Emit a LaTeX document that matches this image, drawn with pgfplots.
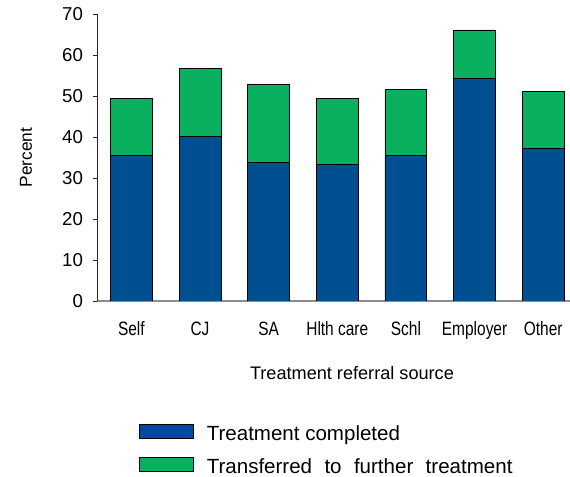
\documentclass[border=0pt]{standalone}
\usepackage{pgfplots}
\pgfplotsset{compat=1.18}
\usepackage{fontspec}
\setmainfont{Liberation Sans}
\newfontfamily\narrowfont[FakeStretch=0.80]{Liberation Sans}
\definecolor{barblue}{RGB}{0,79,145}
\definecolor{legblue}{RGB}{0,72,168}
\definecolor{bargreen}{RGB}{8,176,96}
\begin{document}
\begin{tikzpicture}
\useasboundingbox (0,0) rectangle (427.5pt,357.75pt);
\begin{axis}[
  at={(72.75pt,132pt)}, anchor=south west,
  scale only axis, width=354.75pt, height=215.25pt,
  ybar stacked, bar width=0.61,
  xmin=-0.5, xmax=6.39, ymin=0, ymax=70,
  axis x line=bottom, axis y line=left,
  x axis line style={draw=gray!90, -, line width=0.8pt},
  y axis line style={draw=black!85, -, line width=0.6pt},
  /pgf/number format/assume math mode=true,
  ytick={0,10,...,70},
  tick align=outside, major tick length=3pt,
  y tick style={draw=black!85, line width=0.6pt},
  xtick={0,...,6},
  xticklabels={Self,CJ,SA,Hlth care,Schl,Employer,Other},
  x tick style={draw=none},
  xticklabel style={font=\narrowfont\fontsize{14.5pt}{17pt}\selectfont, anchor=base, yshift=-23.25pt},
  yticklabel style={font=\fontsize{14pt}{16pt}\selectfont, xshift=-4pt},
  ylabel={Percent},
  ylabel style={at={(axis description cs:-0.150,0.5)}, anchor=center, font=\fontsize{13pt}{15pt}\selectfont},
  xlabel={Treatment referral source},
  xlabel style={at={(axis description cs:0.539,-0.251)}, anchor=center, font=\fontsize{13.6pt}{16pt}\selectfont},
  legend style={at={(axis description cs:0.0888,-0.428)}, anchor=north west,
    draw=none, fill=none, inner sep=0pt, outer sep=0pt,
    row sep=8.75pt, column sep=9.75pt,
    nodes={inner sep=0pt, anchor=base west, text height=12pt, text depth=4pt},
    font=\fontsize{15.4pt}{18pt}\selectfont},
  mylegend/.style={legend image code/.code={\draw[##1, line width=0.6pt, fill=#1] (0pt,1.5pt) rectangle (40.5pt,12pt);}},
]
\addplot[fill=barblue, draw=black, line width=0.6pt, mylegend=legblue] coordinates {
  (0,35.4) (1,40.2) (2,33.8) (3,33.4) (4,35.6) (5,54.3) (6,37.3)};
\addplot[fill=bargreen, draw=black, line width=0.6pt, mylegend=bargreen] coordinates {
  (0,14.0) (1,16.6) (2,19.0) (3,16.0) (4,15.9) (5,11.8) (6,13.8)};
\legend{Treatment completed, Transferred\hspace{5pt} to\hspace{5pt} further\hspace{5pt} treatment}
\end{axis}
\end{tikzpicture}
\end{document}
